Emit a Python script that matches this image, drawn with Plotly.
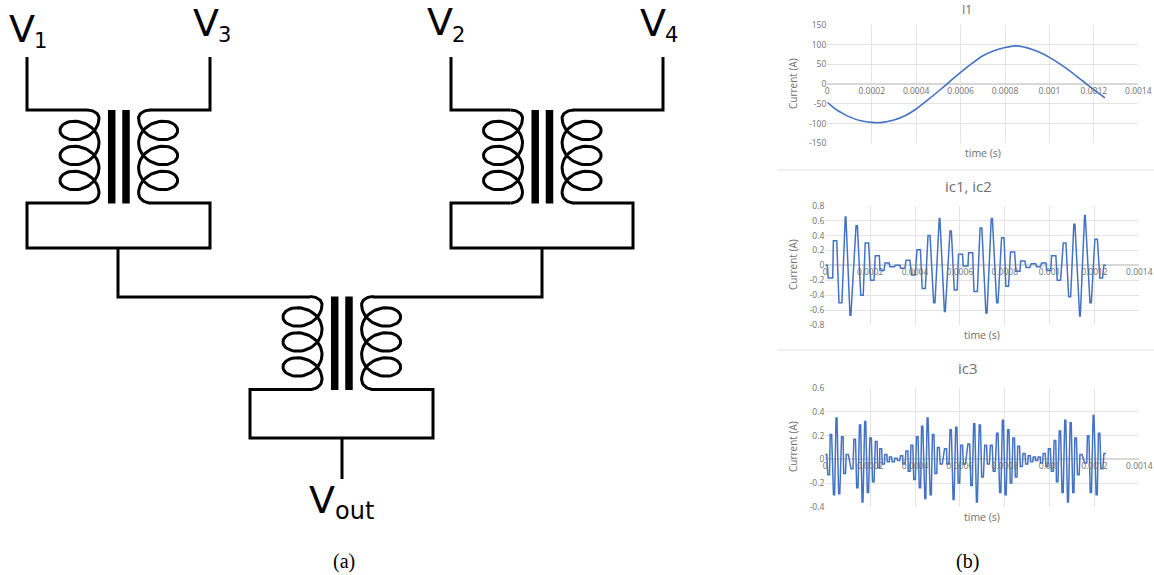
import math
import plotly.graph_objects as go

W, H = 1154, 575

# ---------- chart data ----------
i1_t_us = [0, 25, 50, 75, 100, 150, 200, 225, 250, 300, 350, 400, 450, 500, 550, 600, 650, 700, 750, 800, 850, 900, 950, 1000, 1050, 1100, 1150, 1200, 1250]
i1_amp = [-46, -58, -68, -76, -83, -93, -97, -98, -97, -91, -80, -63, -41, -18, 6, 30, 52, 72, 85, 93, 97, 92, 82, 68, 50, 30, 8, -14, -35]

ic12_start_us = [0, 13, 36, 61, 89, 110, 137, 158, 178, 202, 223, 244, 266, 288, 312, 336, 360, 385, 409, 432, 458, 483, 508, 531, 556, 575, 594, 615, 639, 663, 690, 716, 740, 764, 786, 805, 826, 850, 871, 895, 918, 942, 964, 987, 1009, 1034, 1061, 1085, 1108, 1134, 1156, 1180, 1202, 1224, 1242]
ic12_end_us = [9, 33, 51, 74, 92, 114, 143, 169, 193, 217, 241, 262, 285, 309, 333, 355, 377, 401, 424, 446, 467, 489, 511, 535, 562, 588, 612, 636, 657, 678, 698, 721, 745, 770, 797, 817, 844, 868, 890, 912, 938, 960, 984, 1005, 1028, 1049, 1073, 1094, 1113, 1137, 1159, 1186, 1213, 1236, 1251]
ic12_level = [0, -0.17, 0.33, -0.5, 0.65, -0.67, 0.53, -0.4, 0.3, -0.2, 0.13, -0.07, 0.03, -0.02, 0.0, -0.04, 0.07, -0.13, 0.21, -0.31, 0.4, -0.5, 0.63, -0.62, 0.46, -0.33, 0.15, -0.01, 0.17, -0.35, 0.5, -0.64, 0.63, -0.5, 0.37, -0.28, 0.18, -0.08, 0.06, -0.03, 0.02, -0.02, 0.03, -0.07, 0.13, -0.2, 0.3, -0.42, 0.55, -0.68, 0.67, -0.5, 0.35, -0.17, 0]

ic3_center_us = [2, 15, 25, 39, 50, 62, 76, 86, 98, 119, 131, 143, 155, 166, 178, 190, 202, 214, 227, 238, 247, 259, 270, 281, 291, 303, 315, 327, 340, 351, 364, 374, 386, 398, 410, 422, 432, 446, 456, 470, 481, 493, 504, 517, 536, 547, 559, 572, 584, 596, 608, 620, 640, 652, 664, 676, 689, 701, 715, 727, 740, 753, 767, 780, 792, 804, 816, 828, 840, 851, 862, 874, 886, 898, 909, 920, 932, 942, 954, 964, 976, 988, 999, 1012, 1024, 1034, 1046, 1058, 1070, 1082, 1094, 1106, 1116, 1128, 1140, 1161, 1172, 1184, 1196, 1210, 1221, 1233, 1247]
ic3_level = [0.04, -0.13, 0.21, -0.30, 0.35, -0.29, 0.19, -0.12, 0.04, -0.08, 0.17, -0.24, 0.29, -0.36, 0.32, -0.28, 0.18, -0.19, 0.15, -0.07, 0.09, -0.04, 0.04, -0.02, 0.02, -0.02, 0.01, -0.01, 0.03, -0.04, 0.07, -0.10, 0.12, -0.17, 0.19, -0.24, 0.28, -0.33, 0.35, -0.30, 0.21, -0.12, 0.10, -0.04, 0.09, -0.04, 0.25, -0.34, 0.27, -0.20, 0.12, -0.04, 0.13, -0.22, 0.30, -0.36, 0.29, -0.15, 0.12, -0.04, 0.12, -0.10, 0.22, -0.28, 0.33, -0.30, 0.25, -0.20, 0.18, -0.15, 0.11, -0.06, 0.05, -0.04, 0.03, -0.02, 0.02, -0.01, 0.02, -0.03, 0.05, -0.06, 0.09, -0.10, 0.16, -0.19, 0.24, -0.28, 0.33, -0.36, 0.31, -0.28, 0.18, -0.13, 0.04, -0.03, 0.20, -0.28, 0.37, -0.30, 0.22, -0.08, 0.05]

x_tick_vals = [0, 0.0002, 0.0004, 0.0006, 0.0008, 0.001, 0.0012, 0.0014]
x_tick_text = ["0", "0.0002", "0.0004", "0.0006", "0.0008", "0.001", "0.0012", "0.0014"]
i1_y_ticks = [-150, -100, -50, 0, 50, 100, 150]
ic12_y_ticks = [-0.8, -0.6, -0.4, -0.2, 0, 0.2, 0.4, 0.6, 0.8]
ic3_y_ticks = [-0.4, -0.2, 0, 0.2, 0.4, 0.6]

INK = "#000000"
BLUE = "#4472c4"
GRID = "#e4e4e4"
TXT = "#6f6f6f"
SANS = "Open Sans"

fig = go.Figure()


def add_line(xs, ys, width=3.0):
    fig.add_trace(go.Scatter(x=xs, y=ys, mode="lines", xaxis="x4", yaxis="y4",
                             line=dict(color=INK, width=width), hoverinfo="skip"))


def coil(xoff, yoff, mirror_about=None):
    xs, ys = [], []
    n = 12
    for i in range(n + 1):
        a = i / n * math.pi / 2
        xs.append(87 + 12 * math.sin(a))
        ys.append(118 - 8 * math.cos(a))
    m = 150
    for i in range(m + 1):
        t = i / m * 6 * math.pi
        xs.append(79.5 + 19.5 * math.cos(t))
        ys.append(118 + 25 * t / (2 * math.pi) + 15 * math.sin(t))
    for i in range(n + 1):
        a = i / n * math.pi / 2
        xs.append(87 + 12 * math.cos(a))
        ys.append(193 + 10 * math.sin(a))
    if mirror_about is not None:
        xs = [2 * mirror_about - x for x in xs]
    return [x + xoff for x in xs], [y + yoff for y in ys]


def transformer(xoff, yoff):
    add_line(*coil(xoff, yoff))
    add_line(*coil(xoff, yoff, mirror_about=118.8))
    for bx in (111.7, 126):
        add_line([bx + xoff, bx + xoff], [110 + yoff, 203.5 + yoff], width=7.5)


# ---------- schematic ----------
transformer(0, 0)
transformer(423.5, 0)
transformer(223, 186.5)

add_line([27, 27, 87], [57, 110, 110])
add_line([210, 210, 150], [57, 110, 110])
add_line([87, 27, 27, 210, 210, 150], [203, 203, 248, 248, 203, 203])
add_line([451, 451, 510.5], [57, 110, 110])
add_line([663, 663, 573.5], [57, 110, 110])
add_line([510.5, 451, 451, 633, 633, 573.5], [203, 203, 248, 248, 203, 203])
add_line([118, 118, 310], [248, 297, 297])
add_line([542, 542, 373], [248, 297, 297])
add_line([310, 250, 250, 433, 433, 373], [389.5, 389.5, 438, 438, 389.5, 389.5])
add_line([342, 342], [438, 479])

# ---------- charts ----------
t_i1 = [u * 1e-6 for u in i1_t_us]
fig.add_trace(go.Scatter(x=t_i1, y=i1_amp, mode="lines", xaxis="x", yaxis="y",
                         line=dict(color=BLUE, width=1.6, shape="spline", smoothing=0.6),
                         hoverinfo="skip"))

t2, v2 = [], []
for s, e, v in zip(ic12_start_us, ic12_end_us, ic12_level):
    t2 += [s * 1e-6, e * 1e-6]
    v2 += [v, v]
fig.add_trace(go.Scatter(x=t2, y=v2, mode="lines", xaxis="x2", yaxis="y2",
                         line=dict(color=BLUE, width=1.5), hoverinfo="skip"))

t3, v3 = [], []
for c, v in zip(ic3_center_us, ic3_level):
    hw = 2.0 + 3.0 * (1 - abs(v) / 0.37)
    t3 += [(c - hw) * 1e-6, (c + hw) * 1e-6]
    v3 += [v, v]
fig.add_trace(go.Scatter(x=t3, y=v3, mode="lines", xaxis="x3", yaxis="y3",
                         line=dict(color=BLUE, width=1.5), hoverinfo="skip"))


def xaxis_cfg(x0, x1, zero_y):
    return dict(domain=[x0 / W, x1 / W], range=[0, 0.0014], anchor="free",
                position=1 - zero_y / H, tickmode="array", tickvals=x_tick_vals,
                ticktext=x_tick_text, ticks="", showline=False, showgrid=True,
                gridcolor=GRID, gridwidth=1.3, zeroline=False,
                tickfont=dict(family=SANS, size=8.5, color=TXT), tickangle=0)


def yaxis_cfg(y0, y1, rng, ticks, xname):
    return dict(domain=[1 - y1 / H, 1 - y0 / H], range=rng, anchor=xname, tickmode="array",
                tickvals=ticks, ticktext=[str(v) for v in ticks], ticks="", showline=False,
                showgrid=True, gridcolor=GRID, gridwidth=1.3, zeroline=True,
                zerolinecolor="#d8d8d8", zerolinewidth=1.5,
                tickfont=dict(family=SANS, size=8.5, color=TXT))


def px(x):
    return x / W


def py(y):
    return 1 - y / H


def label(x, y, text, size, family=SANS, color=TXT, angle=0):
    return dict(x=px(x), y=py(y), xref="paper", yref="paper", text=text, showarrow=False,
                xanchor="center", yanchor="middle", textangle=angle,
                font=dict(family=family, size=size, color=color))


annotations = [
    label(22, 29, "V", 38, "DejaVu Sans", INK), label(40, 41, "1", 21, "DejaVu Sans", INK),
    label(206, 23, "V", 38, "DejaVu Sans", INK), label(224, 35, "3", 21, "DejaVu Sans", INK),
    label(440, 22, "V", 38, "DejaVu Sans", INK), label(458, 35, "2", 21, "DejaVu Sans", INK),
    label(653, 23, "V", 38, "DejaVu Sans", INK), label(671, 35, "4", 21, "DejaVu Sans", INK),
    label(322, 500, "V", 38, "DejaVu Sans", INK), label(354, 511, "out", 24, "DejaVu Sans", INK),
    label(344, 561, "(a)", 20, "Liberation Serif", INK),
    label(967, 561, "(b)", 20, "Liberation Serif", INK),
    label(967, 9, "I1", 12),
    label(968, 186, "ic1, ic2", 15),
    label(968, 368, "ic3", 15),
    label(983, 153, "time (s)", 10.5),
    label(982, 335, "time (s)", 10.5),
    label(982, 517, "time (s)", 10.5),
    label(793, 84, "Current (A)", 10, angle=-90),
    label(793, 265, "Current (A)", 10, angle=-90),
    label(793, 447, "Current (A)", 10, angle=-90),
]

shapes = [
    dict(type="line", xref="paper", yref="paper", x0=px(778), x1=1, y0=py(170), y1=py(170),
         line=dict(color="#efefef", width=2)),
    dict(type="line", xref="paper", yref="paper", x0=px(778), x1=1, y0=py(350), y1=py(350),
         line=dict(color="#efefef", width=2)),
]

fig.update_layout(
    width=W, height=H, autosize=False, margin=dict(l=0, r=0, t=0, b=0, autoexpand=False),
    paper_bgcolor="white", plot_bgcolor="rgba(0,0,0,0)", showlegend=False, hovermode=False,
    xaxis=xaxis_cfg(827.3, 1138.3, 84),
    yaxis=yaxis_cfg(25, 143.3, [-150, 150], i1_y_ticks, "x"),
    xaxis2=xaxis_cfg(825.3, 1139.3, 265),
    yaxis2=yaxis_cfg(205.7, 325, [-0.8, 0.8], ic12_y_ticks, "x2"),
    xaxis3=xaxis_cfg(825.3, 1139.3, 459.3),
    yaxis3=yaxis_cfg(388.3, 506.7, [-0.4, 0.6], ic3_y_ticks, "x3"),
    xaxis4=dict(domain=[0, 1], range=[0, W], visible=False, anchor="y4", fixedrange=True),
    yaxis4=dict(domain=[0, 1], range=[H, 0], visible=False, anchor="x4", fixedrange=True),
    annotations=annotations, shapes=shapes,
)

fig.write_html("out.html", config={"displayModeBar": False},
               post_script="document.body.style.margin='0';document.body.style.overflow='hidden';")
